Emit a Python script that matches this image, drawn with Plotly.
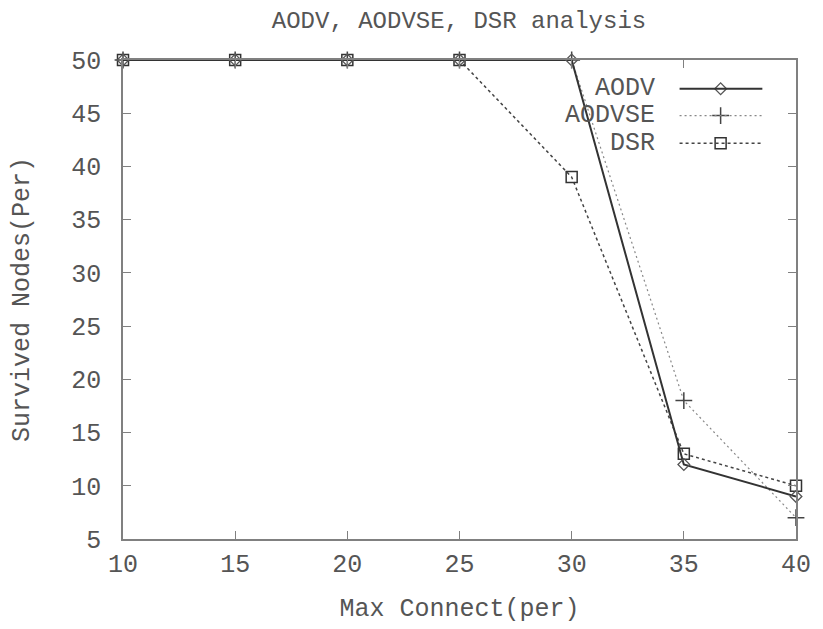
import plotly.graph_objects as go

# ---- data ----
max_connect = [10, 15, 20, 25, 30, 35, 40]
aodv = [50, 50, 50, 50, 50, 12, 9]
aodvse = [50, 50, 50, 50, 50, 18, 7]
dsr = [50, 50, 50, 50, 39, 13, 10]
series_names = ["AODV", "AODVSE", "DSR"]
x_ticks = [10, 15, 20, 25, 30, 35, 40]
y_ticks = [5, 10, 15, 20, 25, 30, 35, 40, 45, 50]

FONT = "Liberation Mono, DejaVu Sans Mono, monospace"
TXT = "#555555"
FS = 25

styles = {
    "AODV": dict(line=dict(color="#333333", width=2, dash="solid"),
                 marker=dict(symbol="diamond-open", size=9, color="#555555", line=dict(width=1.3))),
    "AODVSE": dict(line=dict(color="#888888", width=1.2, dash="2px,3px"),
                   marker=dict(symbol="cross-thin-open", size=12, color="#444444", line=dict(width=1.5))),
    "DSR": dict(line=dict(color="#444444", width=1.5, dash="3px,3px"),
                marker=dict(symbol="square-open", size=11, color="#333333", line=dict(width=1.5))),
}
values = {"AODV": aodv, "AODVSE": aodvse, "DSR": dsr}

fig = go.Figure()
for name in ["DSR", "AODVSE", "AODV"]:
    fig.add_trace(go.Scatter(x=max_connect, y=values[name], mode="lines+markers", name=name,
                             showlegend=False, cliponaxis=False, **styles[name]))

# custom gnuplot-style legend (text right, sample on the right)
leg_y = {"AODV": 0.940, "AODVSE": 0.884, "DSR": 0.826}
for name in series_names:
    y = leg_y[name]
    fig.add_annotation(x=0.794, y=y, xref="paper", yref="paper", text=name, showarrow=False,
                       xanchor="right", yanchor="middle", font=dict(family=FONT, size=FS, color=TXT))
    fig.add_shape(type="line", x0=0.827, x1=0.950, y0=y, y1=y, xref="paper", yref="paper",
                  line=dict(color=styles[name]["line"]["color"], width=styles[name]["line"]["width"],
                            dash=styles[name]["line"]["dash"]))
    fig.add_trace(go.Scatter(x=[0.888], y=[y], xaxis="x2", yaxis="y2", mode="markers",
                             marker=styles[name]["marker"], showlegend=False, hoverinfo="skip"))

axis_common = dict(showgrid=False, zeroline=False, showline=True, linecolor="#808080", linewidth=1.5,
                   mirror="ticks", ticks="inside", ticklen=8, tickcolor="#808080", tickwidth=1.2,
                   tickfont=dict(family=FONT, size=FS, color=TXT))

# page body has an 8px margin, so the figure is sized/offset to compensate
fig.update_layout(
    width=815, height=621,
    margin=dict(l=113, r=26, t=52, b=87),
    paper_bgcolor="white", plot_bgcolor="white",
    title=dict(text="AODV, AODVSE, DSR analysis", x=(459 - 8) / 815, xanchor="center",
               yref="container", y=1 - 3 / 621, yanchor="top", pad=dict(t=0, b=0),
               font=dict(family=FONT, size=24, color=TXT)),
    xaxis=dict(range=[10, 40], tickvals=x_ticks, ticklabelstandoff=1,
               title=dict(text="Max Connect(per)", font=dict(family=FONT, size=FS, color=TXT), standoff=20),
               **axis_common),
    yaxis=dict(range=[5, 50], tickvals=y_ticks, ticklabelstandoff=15,
               title=dict(text="Survived Nodes(Per)", font=dict(family=FONT, size=FS, color=TXT), standoff=34),
               **axis_common),
    xaxis2=dict(range=[0, 1], overlaying="x", visible=False, domain=[0, 1]),
    yaxis2=dict(range=[0, 1], overlaying="y", visible=False),
)

fig.write_html("out.html")
